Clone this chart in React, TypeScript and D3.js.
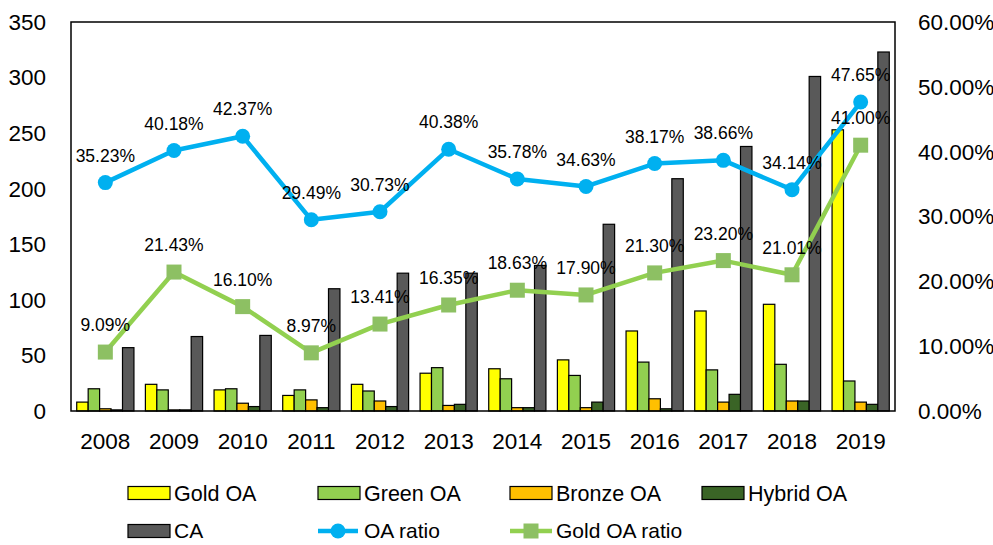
import React from "react";
import * as d3 from "d3";

const years = ["2008","2009","2010","2011","2012","2013","2014","2015","2016","2017","2018","2019"];
const goldOA = [8, 24, 19, 14, 24, 34, 38, 46, 72, 90, 96, 253];
const greenOA = [20, 19, 20, 19, 18, 39, 29, 32, 44, 37, 42, 27];
const bronzeOA = [2, 1, 7, 10, 9, 5, 3, 3, 11, 8, 9, 8];
const hybridOA = [1, 1, 4, 3, 4, 6, 3, 8, 2, 15, 9, 6];
const ca = [57, 67, 68, 110, 124, 124, 131, 168, 209, 238, 301, 323];
const oaRatio = [35.23, 40.18, 42.37, 29.49, 30.73, 40.38, 35.78, 34.63, 38.17, 38.66, 34.14, 47.65];
const goldOaRatio = [9.09, 21.43, 16.10, 8.97, 13.41, 16.35, 18.63, 17.90, 21.30, 23.20, 21.01, 41.00];
const leftTicks = [0, 50, 100, 150, 200, 250, 300, 350];
const rightTicks = [0, 10, 20, 30, 40, 50, 60];

const barSeries = [
  { key: "Gold OA", values: goldOA, color: "#FFFF00" },
  { key: "Green OA", values: greenOA, color: "#92D050" },
  { key: "Bronze OA", values: bronzeOA, color: "#FFC000" },
  { key: "Hybrid OA", values: hybridOA, color: "#3A6426" },
  { key: "CA", values: ca, color: "#595959" },
];

const FONT = "'Liberation Sans', Arial, sans-serif";

export default function App() {
  const W = 993, H = 545;
  const left = 71, right = 895, top = 22, bottom = 411;
  const x = d3.scaleBand<string>().domain(years).range([left, right]).paddingInner(0).paddingOuter(0);
  const xs = d3.scaleBand<string>().domain(barSeries.map(s => s.key)).range([0, x.bandwidth()]).paddingInner(0).paddingOuter(0.5);
  const y = d3.scaleLinear().domain([0, 350]).range([bottom, top]);
  const yr = d3.scaleLinear().domain([0, 60]).range([bottom, top]);
  const cx = (i: number) => (x(years[i]) as number) + x.bandwidth() / 2;
  const line = d3.line<number>().x((_, i) => cx(i)).y(d => yr(d));

  const oaColor = "#00B0F0";
  const goldLine = "#92D050";
  const goldMarker = "#8DC063";

  const legendRow1 = [
    { key: "Gold OA", x: 128 },
    { key: "Green OA", x: 318 },
    { key: "Bronze OA", x: 510 },
    { key: "Hybrid OA", x: 702 },
  ];
  const r1 = 493;
  const r2 = 531;

  return (
    <svg width={W} height={H} style={{ position: "absolute", left: 0, top: 0, background: "#fff" }} fontFamily={FONT}>
      <rect x={0} y={0} width={W} height={H} fill="#fff" />
      {barSeries.map(s => (
        <g key={s.key}>
          {s.values.map((v, i) => (
            <rect key={i}
              x={(x(years[i]) as number) + (xs(s.key) as number)}
              y={y(v)}
              width={xs.bandwidth()}
              height={bottom - y(v)}
              fill={s.color}
              stroke="#000"
              strokeWidth={1.2} />
          ))}
        </g>
      ))}
      <rect x={left} y={top} width={right - left} height={bottom - top} fill="none" stroke="#000" strokeWidth={1.5} />
      {leftTicks.map(t => (
        <text key={t} x={46} y={y(t)} dy="0.35em" textAnchor="end" fontSize={22.5} fill="#000">{t}</text>
      ))}
      {rightTicks.map(t => (
        <text key={t} x={918} y={yr(t)} dy="0.35em" textAnchor="start" fontSize={22.5} fill="#000">{t.toFixed(2) + "%"}</text>
      ))}
      {years.map((yv, i) => (
        <text key={yv} x={cx(i)} y={441} dy="0.35em" textAnchor="middle" fontSize={22.5} fill="#000">{yv}</text>
      ))}
      <path d={line(oaRatio) as string} fill="none" stroke={oaColor} strokeWidth={4.5} strokeLinejoin="round" />
      {oaRatio.map((v, i) => (
        <circle key={i} cx={cx(i)} cy={yr(v)} r={7.5} fill={oaColor} />
      ))}
      <path d={line(goldOaRatio) as string} fill="none" stroke={goldLine} strokeWidth={4.5} strokeLinejoin="round" />
      {goldOaRatio.map((v, i) => (
        <rect key={i} x={cx(i) - 7.5} y={yr(v) - 7.5} width={15} height={15} fill={goldMarker} />
      ))}
      {oaRatio.map((v, i) => (
        <text key={"o" + i} x={cx(i)} y={yr(v) - 27} dy="0.35em" textAnchor="middle" fontSize={17.5} fill="#000">{v.toFixed(2) + "%"}</text>
      ))}
      {goldOaRatio.map((v, i) => (
        <text key={"g" + i} x={cx(i)} y={yr(v) - 27} dy="0.35em" textAnchor="middle" fontSize={17.5} fill="#000">{v.toFixed(2) + "%"}</text>
      ))}
      {legendRow1.map(l => {
        const s = barSeries.find(b => b.key === l.key)!;
        return (
          <g key={l.key}>
            <rect x={l.x} y={r1 - 6.5} width={42} height={13} fill={s.color} stroke="#000" strokeWidth={1.2} />
            <text x={l.x + 46} y={r1} dy="0.35em" fontSize={21.5} fill="#000">{l.key}</text>
          </g>
        );
      })}
      <g>
        <rect x={128} y={r2 - 6.5} width={42} height={13} fill="#595959" stroke="#000" strokeWidth={1.2} />
        <text x={174} y={r2} dy="0.35em" fontSize={21} fill="#000">CA</text>
      </g>
      <g>
        <line x1={318} x2={358} y1={r2} y2={r2} stroke={oaColor} strokeWidth={4.5} />
        <circle cx={338} cy={r2} r={7.5} fill={oaColor} />
        <text x={364} y={r2} dy="0.35em" fontSize={21} fill="#000">OA ratio</text>
      </g>
      <g>
        <line x1={510} x2={552} y1={r2} y2={r2} stroke={goldLine} strokeWidth={4.5} />
        <rect x={531 - 7.5} y={r2 - 7.5} width={15} height={15} fill={goldMarker} />
        <text x={556} y={r2} dy="0.35em" fontSize={21} fill="#000">Gold OA ratio</text>
      </g>
    </svg>
  );
}
